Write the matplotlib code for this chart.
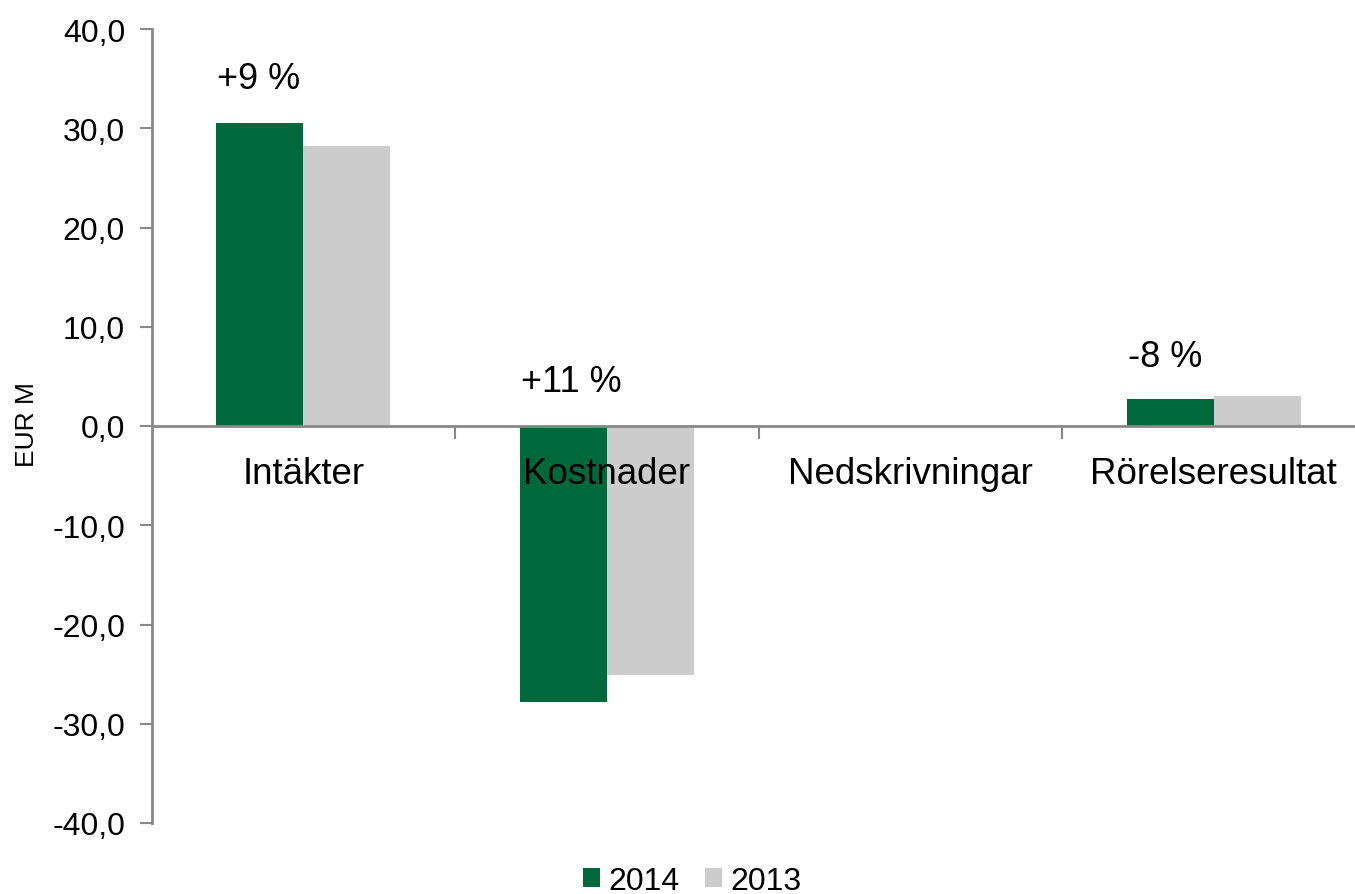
import numpy as np
import matplotlib.pyplot as plt
from matplotlib.ticker import FuncFormatter

# Data
kategorier = ['Intäkter', 'Kostnader', 'Nedskrivningar', 'Rörelseresultat']
varden_2014 = [30.5, -27.8, 0.0, 2.7]
varden_2013 = [28.2, -25.1, 0.0, 3.0]
forandring = ['+9 %', '+11 %', '', '-8 %']
forandring_y = [35.0, 4.5, 0.0, 7.0]

plt.rcParams['font.family'] = ['Liberation Sans', 'DejaVu Sans']

gron = '#00693C'
gra = '#CCCCCC'
axel = '#888888'

fig = plt.figure(figsize=(13.55, 8.95), dpi=100)
ax = fig.add_axes([151.5 / 1355, 1 - 824 / 895, 1214 / 1355, 794 / 895])

x = np.arange(len(kategorier))
w = 0.287
ax.bar(x - w / 2, varden_2014, width=w, color=gron, label='2014', zorder=2)
ax.bar(x + w / 2, varden_2013, width=w, color=gra, label='2013', zorder=2)

ax.set_xlim(-0.5, len(kategorier) - 0.5)
ax.set_ylim(-40, 40)
ax.set_yticks(np.arange(-40, 41, 10))
ax.yaxis.set_major_formatter(FuncFormatter(lambda v, p: f'{v:.1f}'.replace('.', ',')))
ax.tick_params(axis='y', labelsize=23, length=9, width=1.5, color=axel, pad=10)

# x-axeln vid noll, ticks mellan kategorierna
ax.spines['bottom'].set_position(('data', 0))
ax.set_xticks(x[:-1] + 0.5)
ax.set_xticklabels([])
ax.tick_params(axis='x', length=9, width=1.5, color=axel)

for s in ['top', 'right']:
    ax.spines[s].set_visible(False)
for s in ['left', 'bottom']:
    ax.spines[s].set_color(axel)
    ax.spines[s].set_linewidth(2)
ax.spines['bottom'].set_zorder(3)

# kategorinamn under nollinjen, ovanpå staplarna
for i, namn in enumerate(kategorier):
    ax.annotate(namn, (x[i], 0), xytext=(0, -34.5), textcoords='offset points',
                ha='center', va='center', fontsize=26.5, zorder=5)

# procentuell förändring
for i, txt in enumerate(forandring):
    if txt:
        ax.text(x[i] - w + 0.003, forandring_y[i], txt, fontsize=26,
                ha='left', va='center')

fig.text(27 / 1355, 1 - 425 / 895, 'EUR M', rotation=90, fontsize=19,
         ha='center', va='center')

fig.legend(loc='center', bbox_to_anchor=(692 / 1355, 1 - 882 / 895),
           ncol=2, frameon=False, fontsize=23, handlelength=0.54,
           handleheight=0.54, handletextpad=0.25, columnspacing=0.8)

fig.savefig('out.png', dpi=100)
